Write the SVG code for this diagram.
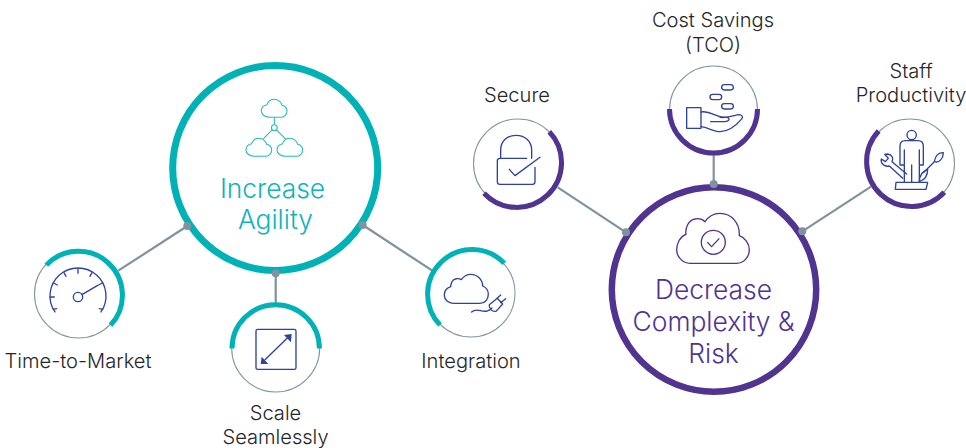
<svg xmlns="http://www.w3.org/2000/svg" width="966" height="448" viewBox="0 0 966 448">
<style>
text{font-family:Inter,"Liberation Sans",sans-serif;text-anchor:middle}
.lbl{font-size:20.1px;fill:#252627;font-weight:300}
.tb{font-size:26.4px;fill:#0fb3b8;font-weight:300}
.pb{font-size:26.4px;fill:#50348f;font-weight:300}
.thin{fill:#fff;stroke:#8397a3;stroke-width:1.1}
.at{fill:none;stroke:#00b2b5;stroke-width:5}
.ap{fill:none;stroke:#50348f;stroke-width:5}
.ic{fill:none;stroke:#2f429d;stroke-width:4;stroke-linejoin:round;stroke-linecap:round}
.ict{fill:none;stroke:#2bb8bd;stroke-width:3.2}
.icp{fill:none;stroke:#50348f;stroke-width:4}
.ln{stroke:#7f929f;stroke-width:2.2;fill:none}
.dt{fill:#7f929f}
</style>
<defs>
<path id="cl" d="M26,54H58C68,54 77,46 77,36C77,27 71,20 62,18C60,8 50,0 39,0C29,0 20,6 17,16C7,18 0,26 0,35C0,46 12,54 26,54Z"/>
</defs>
<g id="connectors">
<line class="ln" x1="187.3" y1="226" x2="118.3" y2="270.7"/>
<line class="ln" x1="275.7" y1="273.3" x2="275.7" y2="303"/>
<line class="ln" x1="362.7" y1="225" x2="432.3" y2="270.7"/>
<line class="ln" x1="557.7" y1="187.3" x2="626" y2="232.3"/>
<line class="ln" x1="713.7" y1="155" x2="713.7" y2="184"/>
<line class="ln" x1="871" y1="186.7" x2="802.3" y2="231.3"/>
</g>
<g id="agility">
<circle cx="275.2" cy="168" r="102.5" fill="#fff" stroke="#00b2b5" stroke-width="7"/>
<g transform="translate(160 50) scale(.3333)" class="ict">
<use href="#cl" x="304" y="148"/><use href="#cl" x="258" y="265"/><use href="#cl" x="351" y="265"/>
<circle cx="343" cy="233" r="8.5"/>
<path d="M343,202V225M337,239L310,267M349,239L378,268"/>
</g>
<text class="tb" x="272.500" y="198">Increase</text>
<text class="tb" x="275.5" y="229">Agility</text>
</g>
<g id="time-to-market">
<circle class="thin" cx="78.5" cy="294" r="44"/>
<path class="at" d="M46.300,265.100A43.500,43.500 0 0 1 110.500,325.300"/>
<g transform="translate(0 220) scale(.3333)" class="ic">
<path d="M165,276A84,84 0 1 1 303,276"/>
<circle cx="234" cy="231" r="14"/>
<path d="M150,231H163M234,147V160M161,189L172,195M192,158L198,169M276,158L270,169M307,189L296,195M246,224L293,196M160,268L170,266M308,268L298,266"/>
</g>
<text class="lbl" x="78" y="368">Time-to-Market</text>
</g>
<g id="scale-seamlessly">
<circle class="thin" cx="275.7" cy="348" r="44"/>
<path class="at" d="M232,348.500A43.700,43.700 0 0 1 319.400,348.500"/>
<g transform="translate(210 280) scale(.3333)">
<rect class="ic" x="138" y="148" width="120" height="120" rx="5"/>
<path class="ic" d="M165,239L232,174"/>
<path fill="#2f429d" d="M245,162L222,165L243,187ZM152,252L155,230L175,252Z"/>
</g>
<text class="lbl" x="275.500" y="419.500">Scale</text>
<text class="lbl" x="275.500" y="444">Seamlessly</text>
</g>
<g id="integration">
<circle class="thin" cx="471" cy="293" r="44"/>
<path class="at" d="M440,325A43.500,43.500 0 0 1 504.300,263.300"/>
<g transform="translate(400 230) scale(.3333)" class="ic">
<path d="M160,220H240C255,220 265,208 265,193C265,180 258,172 248,168C248,148 232,133 212,133C198,133 190,140 184,149C175,143 160,145 155,157C153,163 152,167 152,170C140,174 133,183 133,195C133,210 145,220 160,220Z"/>
<path d="M215,246C230,232 245,248 262,243C268,241 272,238 276,234"/>
<path d="M292,205L268,224C266,235 276,246 288,244L308,222ZM288,208L302,195M302,218L317,206"/>
</g>
<text class="lbl" x="471" y="368">Integration</text>
</g>
<g id="secure">
<circle class="thin" cx="518" cy="163.500" r="44.500"/>
<path class="ap" d="M549.300,131.700A43.500,43.500 0 0 1 484,193.300"/>
<g transform="translate(460 80) scale(.3333)" class="ic">
<path d="M122,235V210C122,185 140,166 168,166C196,166 215,185 215,210V235"/>
<path d="M200,235H120Q112,235 112,243V305Q112,313 120,313H217Q225,313 225,305V262"/>
<path d="M148,268L165,287L240,232"/>
</g>
<text class="lbl" x="517" y="101.500">Secure</text>
</g>
<g id="cost-savings">
<circle class="thin" cx="713.500" cy="110" r="44"/>
<path class="ap" d="M669.500,109A44,44 0 0 0 757.500,109"/>
<g transform="translate(640 0) scale(.3333)" class="ic">
<rect x="140" y="323" width="43" height="62"/>
<rect x="245" y="254" width="35" height="16" rx="8"/>
<rect x="210" y="283" width="35" height="16" rx="8"/>
<rect x="245" y="311" width="35" height="16" rx="8"/>
<path d="M183,336C215,330 225,355 262,352C272,358 266,365 255,365H212M240,352C265,355 285,345 297,344C305,344 310,350 306,356C290,375 265,395 240,395C220,395 205,382 183,380"/>
</g>
<text class="lbl" x="713" y="27">Cost Savings</text>
<text class="lbl" x="713" y="52">(TCO)</text>
</g>
<g id="staff-productivity">
<circle class="thin" cx="910" cy="163.500" r="44.500"/>
<path class="ap" d="M878.700,131A43.500,43.500 0 0 0 944.300,192.300"/>
<g transform="translate(846 50) scale(.3333)" class="ic">
<circle cx="197" cy="255" r="14"/>
<path d="M175,395V345H162V288Q162,272 178,272H216Q232,272 232,288V345H220V395M175,300V345M220,300V345M197,345V395"/>
<path d="M150,397H245L240,418H148Z"/>
<path d="M182,372L138,335C143,325 140,315 125,312L116,313L127,325L118,335L106,327C103,340 115,352 130,348L170,385"/>
<path d="M232,368L265,335C280,340 292,325 292,308C280,308 268,315 265,335"/>
<path d="M220,395C220,375 232,362 245,358C245,375 237,390 220,395Z"/>
</g>
<text class="lbl" x="911" y="77.500">Staff</text>
<text class="lbl" x="911" y="101.500">Productivity</text>
</g>
<g id="complexity">
<circle cx="714" cy="289.500" r="102.200" fill="#fff" stroke="#50348f" stroke-width="6.500"/>
<g transform="translate(600 175) scale(.3333)" class="icp">
<path d="M270,265H410C432,265 448,245 448,225C448,205 435,188 418,182C420,145 395,115 360,115C340,115 325,125 315,140C305,130 295,130 285,132C265,135 255,160 258,178C240,185 230,205 230,225C230,245 248,265 270,265Z"/>
<circle cx="340" cy="202" r="36"/>
<path d="M322,202L335,215L358,190"/>
</g>
<text class="pb" x="713.500" y="299">Decrease</text>
<text class="pb" x="713.500" y="331">Complexity &amp;</text>
<text class="pb" x="713.500" y="363">Risk</text>
</g>
<g id="joints">
<circle class="dt" cx="187.300" cy="226" r="4"/>
<circle class="dt" cx="275.700" cy="273.300" r="4"/>
<circle class="dt" cx="362.700" cy="225" r="4"/>
<circle class="dt" cx="626" cy="232.300" r="4"/>
<circle class="dt" cx="713.700" cy="184" r="4"/>
<circle class="dt" cx="802.300" cy="231.300" r="4"/>
</g>
</svg>
